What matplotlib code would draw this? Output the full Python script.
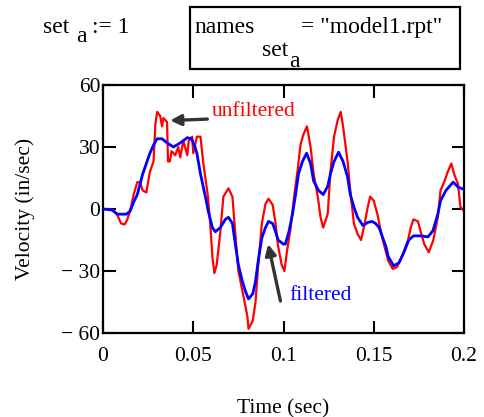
import matplotlib
matplotlib.use("Agg")
import matplotlib.pyplot as plt
from matplotlib.patches import Rectangle

# ---- data ----
t_unf = [0, 0.003, 0.0056, 0.008, 0.010, 0.012, 0.0135, 0.015, 0.017, 0.019, 0.0205, 0.022, 0.024,
         0.026, 0.028, 0.029, 0.030, 0.0317, 0.0327, 0.0335, 0.0355, 0.036, 0.037, 0.038, 0.040,
         0.0417, 0.0428, 0.0445, 0.0467, 0.0475, 0.0494, 0.050, 0.052, 0.054, 0.0556, 0.058,
         0.0594, 0.0606, 0.0617, 0.063, 0.065, 0.0667, 0.0695, 0.0717, 0.0733, 0.075, 0.078,
         0.080, 0.0806, 0.083, 0.0845, 0.086, 0.088, 0.090, 0.0917, 0.094, 0.0956, 0.097, 0.099,
         0.1005, 0.102, 0.104, 0.1056, 0.108, 0.1094, 0.111, 0.113, 0.115, 0.1167, 0.119, 0.1205,
         0.122, 0.1245, 0.126, 0.128, 0.130, 0.1317, 0.133, 0.1355, 0.137, 0.139, 0.141, 0.143,
         0.1445, 0.1467, 0.148, 0.150, 0.152, 0.154, 0.1556, 0.158, 0.1605, 0.163, 0.166, 0.169,
         0.1705, 0.172, 0.1745, 0.176, 0.178, 0.1805, 0.183, 0.1855, 0.187, 0.189, 0.191, 0.193,
         0.1945, 0.1967, 0.198, 0.2]
v_unf = [0, 0, -0.5, -3, -7, -7.5, -5, -1, 7, 13, 13, 9, 8,
         18, 23, 41, 47, 45, 40, 44, 42, 23, 23, 28, 26,
         30, 25, 33, 26, 33, 35, 27, 35, 35, 22, 7,
         -7, -23, -31, -27, -11, 6, 10, 6, -12, -30, -43,
         -52, -58, -54, -45, -27, -7, 2.4, 5, 2, -7, -18, -27,
         -30, -20, -9, 4, 20, 31, 36, 40, 30, 17, 6, -4,
         -9, -2.4, 18, 35, 43, 47, 40, 23, 9, -7, -12, -15,
         -9, 1, 6, 4, -2.4, -11, -17, -25, -29, -28, -22, -15,
         -9, -5, -6, -11, -17, -21, -15, -4, 9, 13, 18, 22,
         17, 12, 1, -1]

t_fil = [0, 0.005, 0.008, 0.013, 0.015, 0.017, 0.019, 0.0205, 0.022, 0.024, 0.026, 0.028, 0.030,
         0.0327, 0.0355, 0.039, 0.0428, 0.0467, 0.049, 0.051, 0.052, 0.054, 0.0567, 0.0583,
         0.0606, 0.0622, 0.065, 0.0678, 0.0695, 0.0717, 0.0733, 0.075, 0.0772, 0.079, 0.0806,
         0.083, 0.0845, 0.086, 0.088, 0.090, 0.0917, 0.094, 0.0956, 0.097, 0.100, 0.101, 0.103,
         0.105, 0.1067, 0.1083, 0.1105, 0.1128, 0.115, 0.1167, 0.1194, 0.122, 0.1245, 0.126,
         0.128, 0.1305, 0.133, 0.1355, 0.137, 0.139, 0.141, 0.144, 0.1467, 0.149, 0.151, 0.153,
         0.155, 0.1567, 0.158, 0.161, 0.164, 0.1667, 0.1694, 0.172, 0.176, 0.180, 0.1828,
         0.1855, 0.187, 0.190, 0.194, 0.1967, 0.2]
v_fil = [0, -0.5, -2.5, -2.5, -1, 3.4, 7, 12, 17, 22, 27, 31, 34,
         34, 32, 30, 32, 34.5, 34, 30, 27, 17, 6, -1,
         -9, -11, -9, -5, -4, -7, -17, -27, -35, -40, -43.5,
         -41, -35, -25, -14, -9, -6, -7, -11, -15, -17, -17, -11,
         -2.4, 7, 17, 23, 27, 22, 13.5, 9, 7, 11, 17,
         23, 27.5, 23, 15.5, 7, 1, -4, -8, -6.5, -6, -7, -9,
         -14, -18, -23, -27.5, -26, -21, -15, -13, -13, -13.5, -10.5,
         -2.4, 4, 9, 13, 10.6, 9.5]

x_ticks = [0, 0.05, 0.1, 0.15, 0.2]
x_labels = ["0", "0.05", "0.1", "0.15", "0.2"]
y_ticks = [-60, -30, 0, 30, 60]
y_labels = ["\u2212 60", "\u2212 30", "0", "30", "60"]

W, H = 484, 417
FS = 15.5
plt.rcParams['font.family'] = ['Liberation Serif', 'DejaVu Serif']
fig = plt.figure(figsize=(W / 100, H / 100), dpi=100)

def fx(px):
    return px / W

def fy(py):
    return 1 - py / H

ax = fig.add_axes([fx(103), fy(333), fx(464) - fx(103), fy(85) - fy(333)])
ax.plot(t_unf, v_unf, color='#ff0000', lw=1.6, zorder=2)
ax.plot(t_fil, v_fil, color='#0000ff', lw=2.0, zorder=3)
ax.set_xlim(0, 0.2)
ax.set_ylim(-60, 60)
ax.set_xticks(x_ticks)
ax.set_xticklabels(x_labels)
ax.set_yticks(y_ticks)
ax.set_yticklabels(y_labels)
ax.tick_params(direction='in', length=9, width=1.5, top=True, right=True,
               labelsize=FS, colors='black')
ax.tick_params(axis='x', pad=10)
ax.tick_params(axis='y', pad=2)
for s in ax.spines.values():
    s.set_linewidth(1.6)
ax.set_xlabel("Time (sec)", fontsize=FS, labelpad=24)
ax.set_ylabel("Velocity (in/sec)", fontsize=FS, labelpad=19)

arrow_kw = dict(arrowstyle='-|>', color='#333333', lw=2.4, mutation_scale=16,
                shrinkA=0, shrinkB=0)
ax.text(0.0605, 47, "unfiltered", color='#ff0000', fontsize=FS, va='center', ha='left')
ax.annotate("", xy=(0.0372, 42.8), xytext=(0.0578, 43.5), arrowprops=arrow_kw)
ax.text(0.1035, -42, "filtered", color='#0000ff', fontsize=FS, va='center', ha='left')
ax.annotate("", xy=(0.0915, -17), xytext=(0.0983, -44.5), arrowprops=arrow_kw)

# header texts
HF = 17
fig.text(fx(43), fy(33), "set", fontsize=HF, va='baseline')
fig.text(fx(76), fy(42), "a", fontsize=HF, va='baseline')
fig.text(fx(92), fy(33), ":= 1", fontsize=HF, va='baseline')
fig.text(fx(194), fy(33), "names", fontsize=HF, va='baseline')
fig.text(fx(262), fy(56), "set", fontsize=HF, va='baseline')
fig.text(fx(289), fy(67), "a", fontsize=HF, va='baseline')
fig.text(fx(301), fy(33), "= \"model1.rpt\"", fontsize=HF, va='baseline')
fig.patches.append(Rectangle((fx(190), fy(69)), fx(460) - fx(190), fy(7) - fy(69),
                             transform=fig.transFigure, fill=False, lw=1.6, ec='black'))

fig.savefig("out.png", dpi=100)
